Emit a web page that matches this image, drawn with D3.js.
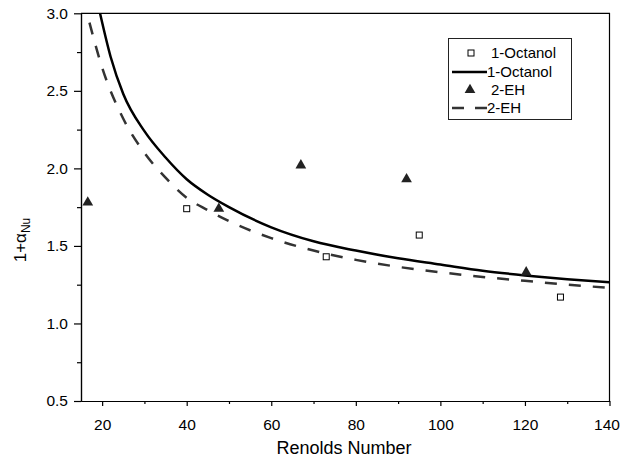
<html>

<head>
  <script src="https://d3js.org/d3.v7.min.js"></script>
  <style>
    body {
      margin: 0;
      background: white;
    }

    text {
      font-family: Arial, "Liberation Sans", sans-serif;
      fill: black;
    }
  </style>
</head>

<body>
  <svg id="chart" height="458" width="620"></svg>
  <script>
    // measured points
    const octanolRe = [40, 73, 95, 128.4];
    const octanolNu = [1.74, 1.43, 1.57, 1.17];
    const ehRe = [16.6, 47.6, 67, 92, 120.3];
    const ehNu = [1.78, 1.74, 2.02, 1.93, 1.33];

    // fitted curves
    const octFitRe = [19.5, 22, 25, 30, 35, 40, 45, 50, 60, 70, 80, 90, 100, 110, 120, 130, 140];
    const octFitNu = [3.0, 2.72, 2.48, 2.24, 2.07, 1.93, 1.83, 1.75, 1.62, 1.53, 1.47, 1.42, 1.38, 1.34, 1.31, 1.285, 1.265];
    const ehFitRe = [17, 20, 25, 30, 35, 40, 45, 50, 60, 70, 80, 90, 100, 110, 120, 130, 140];
    const ehFitNu = [2.94, 2.65, 2.32, 2.10, 1.94, 1.81, 1.73, 1.66, 1.55, 1.47, 1.41, 1.365, 1.33, 1.30, 1.275, 1.25, 1.23];

    const xMajor = [20, 40, 60, 80, 100, 120, 140];
    const xMinor = [30, 50, 70, 90, 110, 130];
    const yMajor = [0.5, 1.0, 1.5, 2.0, 2.5, 3.0];
    const yMinor = [0.75, 1.25, 1.75, 2.25, 2.75];

    const legendLabels = ["1-Octanol", "1-Octanol", "2-EH", "2-EH"];

    let svg = d3.select('svg#chart');
    const plotLeft = 81, plotRight = 609.5, plotTop = 13.3, plotBottom = 401;

    let x = d3.scaleLinear().domain([15, 140]).range([plotLeft, plotRight]);
    let y = d3.scaleLinear().domain([0.5, 3.0]).range([plotBottom, plotTop]);

    svg.append('defs').append('clipPath').attr('id', 'clip')
      .append('rect')
      .attr('x', plotLeft).attr('y', plotTop)
      .attr('width', plotRight - plotLeft).attr('height', plotBottom - plotTop);

    // axes
    let xAxis = svg.append('g').attr('transform', `translate(0,${plotBottom})`)
      .call(d3.axisBottom(x).tickValues(xMajor).tickFormat(d3.format('d'))
        .tickSizeInner(5).tickSizeOuter(0).tickPadding(13));
    svg.append('g').attr('transform', `translate(0,${plotBottom})`)
      .call(d3.axisBottom(x).tickValues(xMinor).tickFormat('')
        .tickSizeInner(3).tickSizeOuter(0));

    svg.append('g').attr('transform', `translate(${plotLeft},0)`)
      .call(d3.axisLeft(y).tickValues(yMajor).tickFormat(d3.format('.1f'))
        .tickSizeInner(7).tickSizeOuter(0).tickPadding(6));
    svg.append('g').attr('transform', `translate(${plotLeft},0)`)
      .call(d3.axisLeft(y).tickValues(yMinor).tickFormat('')
        .tickSizeInner(4).tickSizeOuter(0));

    svg.selectAll('.domain, .tick line').attr('stroke', 'black').attr('stroke-width', 1.2);
    svg.selectAll('.tick text').style('font-size', '15.5px')
      .style('font-family', 'Arial, "Liberation Sans", sans-serif');
    // last label sits against the page edge
    xAxis.selectAll('.tick text').filter(d => d === 140).attr('dx', -3);

    // frame top + right
    svg.append('path')
      .attr('d', `M${plotLeft},${plotTop}H${plotRight}V${plotBottom}`)
      .attr('fill', 'none').attr('stroke', 'black').attr('stroke-width', 1.2);

    // axis titles
    svg.append('text')
      .attr('x', 344).attr('y', 454)
      .attr('text-anchor', 'middle')
      .style('font-size', '18px')
      .text('Renolds Number');

    let yTitle = svg.append('text')
      .attr('transform', 'translate(26,240) rotate(-90)')
      .attr('text-anchor', 'middle')
      .style('font-size', '17px');
    yTitle.append('tspan').text('1+α');
    yTitle.append('tspan').attr('dy', '0.35em').style('font-size', '12px').text('Nu');

    // curves
    let line = d3.line().curve(d3.curveMonotoneX).x(d => x(d[0])).y(d => y(d[1]));
    let plot = svg.append('g').attr('clip-path', 'url(#clip)');

    plot.append('path')
      .datum(ehFitRe.map((r, i) => [r, ehFitNu[i]]))
      .attr('d', line)
      .attr('fill', 'none').attr('stroke', '#333').attr('stroke-width', 2.5)
      .attr('stroke-dasharray', '12,12');

    plot.append('path')
      .datum(octFitRe.map((r, i) => [r, octFitNu[i]]))
      .attr('d', line)
      .attr('fill', 'none').attr('stroke', 'black').attr('stroke-width', 2.5);

    // markers
    let tri = d3.symbol().type(d3.symbolTriangle).size(50);

    svg.selectAll('path.eh')
      .data(ehRe.map((r, i) => [r, ehNu[i]]))
      .join('path')
      .attr('class', 'eh')
      .attr('transform', d => `translate(${x(d[0])},${y(d[1])})`)
      .attr('d', tri)
      .attr('fill', '#222');

    svg.selectAll('rect.oct')
      .data(octanolRe.map((r, i) => [r, octanolNu[i]]))
      .join('rect')
      .attr('class', 'oct')
      .attr('x', d => x(d[0]) - 3).attr('y', d => y(d[1]) - 3)
      .attr('width', 6).attr('height', 6)
      .attr('fill', 'white').attr('stroke', 'black').attr('stroke-width', 1);

    // legend
    let legend = svg.append('g');
    legend.append('rect')
      .attr('x', 448.5).attr('y', 38.5).attr('width', 123).attr('height', 81)
      .attr('fill', 'white').attr('stroke', '#222').attr('stroke-width', 1);

    const rowY = [53, 72, 90, 108];
    legend.selectAll('text')
      .data(legendLabels)
      .join('text')
      .attr('x', (d, i) => i % 2 === 0 ? 491 : 487)
      .attr('y', (d, i) => rowY[i])
      .attr('dy', '0.36em')
      .style('font-size', '15px')
      .text(d => d);

    legend.append('rect')
      .attr('x', 468).attr('y', rowY[0] - 3).attr('width', 6).attr('height', 6)
      .attr('fill', 'white').attr('stroke', 'black').attr('stroke-width', 1);
    legend.append('path')
      .attr('d', `M452,${rowY[1]}H487`)
      .attr('stroke', 'black').attr('stroke-width', 2.5);
    legend.append('path')
      .attr('transform', `translate(470,${rowY[2]})`)
      .attr('d', tri).attr('fill', '#222');
    legend.append('path')
      .attr('d', `M452,${rowY[3]}H487`)
      .attr('stroke', '#333').attr('stroke-width', 2.5)
      .attr('stroke-dasharray', '12,11');
  </script>

</body>

</html>
